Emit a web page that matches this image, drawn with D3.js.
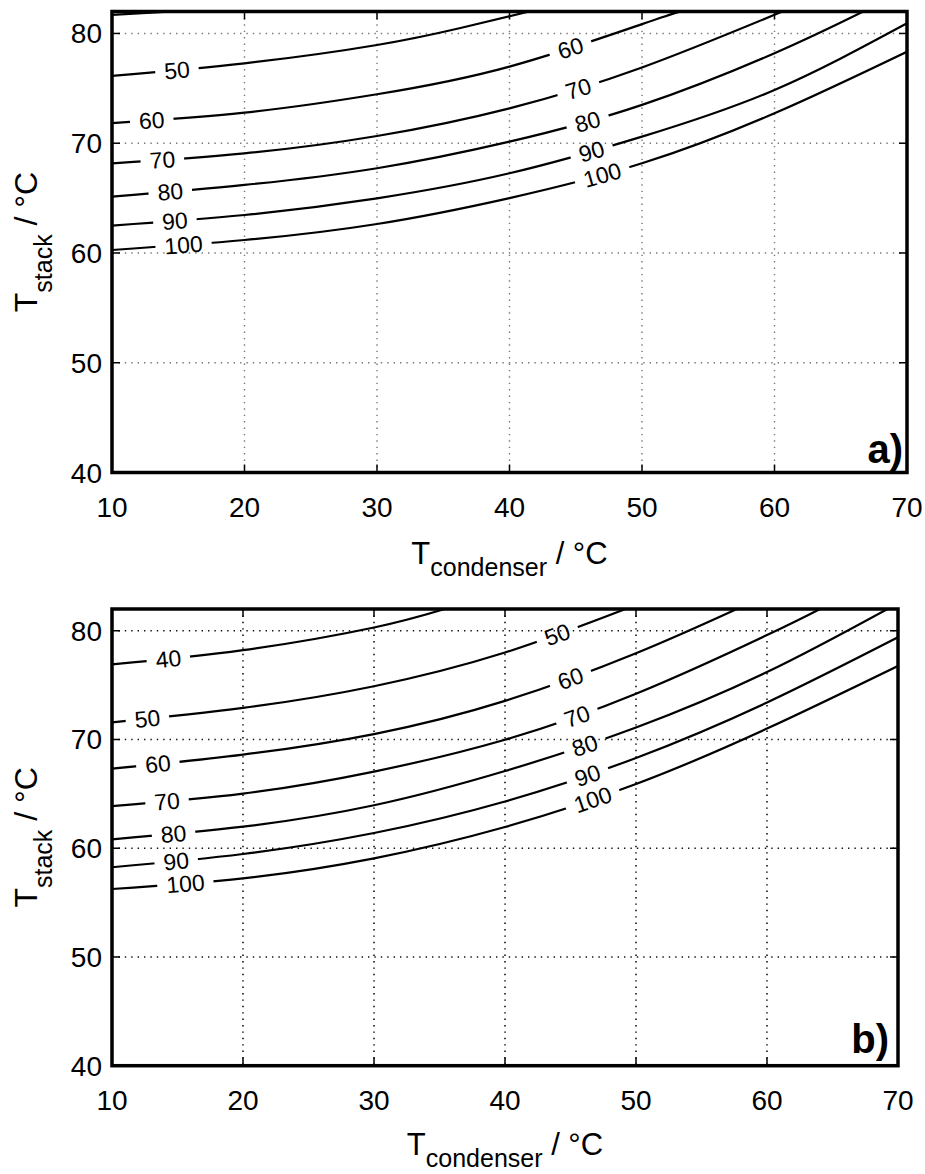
<!DOCTYPE html>
<html><head><meta charset="utf-8">
<script src="https://cdn.jsdelivr.net/npm/d3@7"></script>
<style>
html,body{margin:0;padding:0;background:#fff;}
svg text{font-family:"Liberation Sans",Arial,Helvetica,sans-serif;fill:#000;white-space:pre;}
</style></head><body>
<svg id="fig" width="925" height="1174"></svg>
<script>
// Axis ticks shared by both panels
const xTicks = [10, 20, 30, 40, 50, 60, 70];
const yTicks = [40, 50, 60, 70, 80];
const xDomain = [10, 70];
const yDomain = [40, 82];

// Panel a) contour lines, points are [T_condenser, T_stack]
const a40  = [[10, 81.69], [14.6, 82.0]];
const a50  = [[10, 76.13], [20, 77.28], [30, 78.95], [36.3, 80.5], [41.5, 82.0]];
const a60  = [[10, 71.83], [20, 72.78], [30, 74.46], [40, 76.98], [50, 80.85], [52.9, 82.0]];
const a70  = [[10, 68.17], [20, 69.08], [30, 70.66], [40, 73.18], [50, 76.9], [60.6, 82.0]];
const a80  = [[10, 65.13], [20, 66.2], [30, 67.72], [40, 70.14], [50, 73.49], [60, 78.2], [66.7, 82.0]];
const a90  = [[10, 62.49], [20, 63.46], [30, 64.98], [40, 67.26], [50, 70.6], [60, 74.85], [70, 80.93]];
const a100 = [[10, 60.27], [20, 61.18], [30, 62.64], [40, 65.0], [50, 68.17], [60, 72.73], [70, 78.34]];
const aLevels = [40, 50, 60, 70, 80, 90, 100];
const aLines  = [a40, a50, a60, a70, a80, a90, a100];
// T_condenser where each inline level label sits (null = no label)
const aLabelsLeft  = [null, 14.9, 13.0, 13.8, 14.4, 14.75, 15.4];
const aLabelsRight = [null, null, 44.6, 45.2, 45.9, 46.2, 47.0];

// Panel b) contour lines
const b40  = [[10, 76.9], [20, 78.21], [30, 80.3], [35.4, 82.0]];
const b50  = [[10, 71.58], [20, 72.91], [30, 74.9], [40, 78.0], [49.2, 82.0]];
const b60  = [[10, 67.32], [20, 68.61], [30, 70.5], [40, 73.55], [50, 77.93], [57.7, 82.0]];
const b70  = [[10, 63.88], [20, 65.02], [30, 67.05], [40, 69.98], [50, 74.2], [60, 79.6], [64.05, 82.0]];
const b80  = [[10, 60.82], [20, 61.98], [30, 63.95], [40, 67.1], [50, 71.1], [60, 76.2], [69.2, 82.0]];
const b90  = [[10, 58.25], [20, 59.47], [30, 61.4], [40, 64.3], [50, 68.3], [60, 73.4], [70, 79.4]];
const b100 = [[10, 56.25], [20, 57.23], [30, 59.07], [40, 61.95], [50, 65.9], [60, 71.0], [70, 76.76]];
const bLevels = [40, 50, 60, 70, 80, 90, 100];
const bLines  = [b40, b50, b60, b70, b80, b90, b100];
const bLabelsLeft  = [14.3, 12.7, 13.5, 14.2, 14.7, 14.9, 15.6];
const bLabelsRight = [null, 44.0, 45.0, 45.5, 46.1, 46.3, 46.7];

const svg = d3.select("#fig");

function drawPanel(cfg) {
  const {id, left, right, top, bottom, lines, levels, labL, labR, tag, tagX, tagY, gridColor, gridWidth, titleGap} = cfg;
  const x = d3.scaleLinear().domain(xDomain).range([left, right]);
  const y = d3.scaleLinear().domain(yDomain).range([bottom, top]);
  const g = svg.append("g");

  const defs = g.append("defs");
  defs.append("clipPath").attr("id", "clip" + id)
    .append("rect").attr("x", left).attr("y", top).attr("width", right - left).attr("height", bottom - top);
  const mask = defs.append("mask").attr("id", "mask" + id)
    .attr("maskUnits", "userSpaceOnUse").attr("x", 0).attr("y", 0).attr("width", 925).attr("height", 1174);
  mask.append("rect").attr("x", 0).attr("y", 0).attr("width", 925).attr("height", 1174).attr("fill", "#fff");

  // dotted grid
  const grid = g.append("g").attr("stroke", gridColor).attr("stroke-width", gridWidth)
    .attr("stroke-dasharray", "1.4,5").attr("fill", "none");
  xTicks.slice(1, -1).forEach(v => grid.append("line")
    .attr("x1", x(v)).attr("x2", x(v)).attr("y1", top).attr("y2", bottom));
  yTicks.slice(1).forEach(v => grid.append("line")
    .attr("x1", left).attr("x2", right).attr("y1", y(v)).attr("y2", y(v)));

  // contour lines
  const line = d3.line().x(d => x(d[0])).y(d => y(d[1])).curve(d3.curveNatural);
  const cg = g.append("g").attr("clip-path", `url(#clip${id})`)
    .append("g").attr("mask", `url(#mask${id})`);
  const paths = lines.map(pts => cg.append("path").datum(pts).attr("d", line)
    .attr("fill", "none").attr("stroke", "#000").attr("stroke-width", 2.2).node());

  // inline level labels
  const lg = g.append("g");
  function placeLabel(pathNode, tx, text) {
    const px = x(tx);
    let lo = 0, hi = pathNode.getTotalLength();
    for (let i = 0; i < 40; i++) {
      const mid = (lo + hi) / 2;
      if (pathNode.getPointAtLength(mid).x < px) lo = mid; else hi = mid;
    }
    const L = (lo + hi) / 2;
    const p = pathNode.getPointAtLength(L);
    const p1 = pathNode.getPointAtLength(Math.max(0, L - 5));
    const p2 = pathNode.getPointAtLength(L + 5);
    const ang = Math.atan2(p2.y - p1.y, p2.x - p1.x) * 180 / Math.PI;
    const t = lg.append("text").attr("text-anchor", "middle").attr("font-size", 23)
      .attr("transform", `translate(${p.x},${p.y}) rotate(${ang})`)
      .attr("y", 8).text(text);
    const w = t.node().getComputedTextLength();
    mask.append("rect").attr("x", -w / 2 - 9).attr("y", -11).attr("width", w + 18).attr("height", 22)
      .attr("fill", "#000").attr("transform", `translate(${p.x},${p.y}) rotate(${ang})`);
  }
  paths.forEach((pn, i) => {
    if (labL[i] != null) placeLabel(pn, labL[i], String(levels[i]));
    if (labR[i] != null) placeLabel(pn, labR[i], String(levels[i]));
  });

  // frame and inward ticks
  const tk = g.append("g").attr("stroke", "#000").attr("stroke-width", 1.5);
  xTicks.forEach(v => {
    tk.append("line").attr("x1", x(v)).attr("x2", x(v)).attr("y1", bottom).attr("y2", bottom - 8);
    tk.append("line").attr("x1", x(v)).attr("x2", x(v)).attr("y1", top).attr("y2", top + 8);
  });
  yTicks.forEach(v => {
    tk.append("line").attr("x1", left).attr("x2", left + 8).attr("y1", y(v)).attr("y2", y(v));
    tk.append("line").attr("x1", right).attr("x2", right - 8).attr("y1", y(v)).attr("y2", y(v));
  });
  g.append("rect").attr("x", left).attr("y", top).attr("width", right - left).attr("height", bottom - top)
    .attr("fill", "none").attr("stroke", "#000").attr("stroke-width", 3.5);

  // tick labels
  xTicks.forEach(v => g.append("text").attr("x", x(v)).attr("y", bottom + 44.5)
    .attr("text-anchor", "middle").attr("font-size", 28).text(v));
  yTicks.forEach(v => g.append("text").attr("x", left - 10).attr("y", y(v) + 10)
    .attr("text-anchor", "end").attr("font-size", 28).text(v));

  // axis titles
  const xt = g.append("text").attr("x", (left + right) / 2).attr("y", bottom + titleGap)
    .attr("text-anchor", "middle").attr("font-size", 31);
  xt.append("tspan").text("T");
  xt.append("tspan").attr("font-size", 25).attr("dy", 12).text("condenser");
  xt.append("tspan").attr("dy", -12).text(" / °C");

  const yt = g.append("text").attr("text-anchor", "middle").attr("font-size", 32)
    .attr("transform", `translate(37,${(top + bottom) / 2}) rotate(-90)`);
  yt.append("tspan").text("T");
  yt.append("tspan").attr("font-size", 25).attr("dy", 15).text("stack");
  yt.append("tspan").attr("dy", -15).text(" / °C");

  // panel tag
  g.append("text").attr("x", tagX).attr("y", tagY).attr("text-anchor", "end")
    .attr("font-size", 40).attr("font-weight", "bold").text(tag);
}

drawPanel({id: "A", left: 112, right: 907, top: 11.5, bottom: 472.5,
  lines: aLines, levels: aLevels, labL: aLabelsLeft, labR: aLabelsRight,
  tag: "a)", tagX: 903, tagY: 463, gridColor: "#777", gridWidth: 1.4, titleGap: 91});
drawPanel({id: "B", left: 112, right: 898, top: 609, bottom: 1065.7,
  lines: bLines, levels: bLevels, labL: bLabelsLeft, labR: bLabelsRight,
  tag: "b)", tagX: 889, tagY: 1053, gridColor: "#111", gridWidth: 1.6, titleGap: 89});
</script>
</body></html>
